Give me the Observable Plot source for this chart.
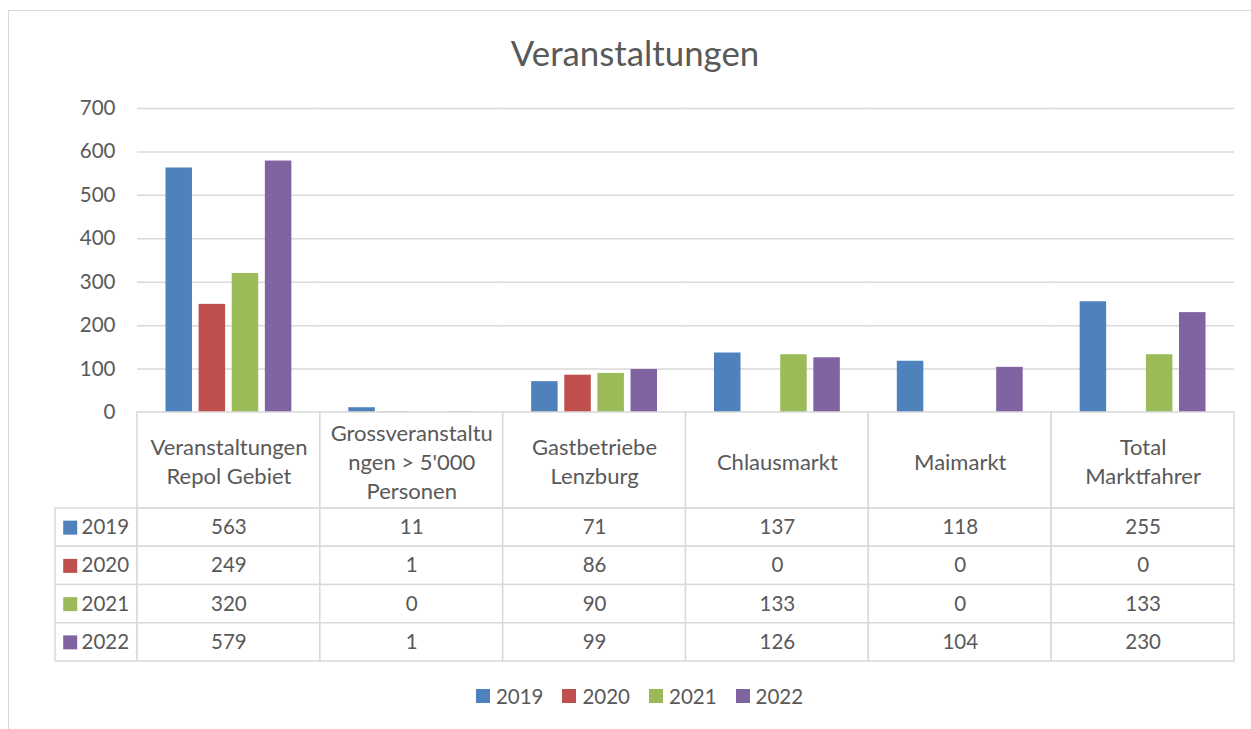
<!DOCTYPE html>
<html>
<head>
<meta charset="utf-8">
<script src="https://cdn.jsdelivr.net/npm/d3@7"></script>
<script src="https://cdn.jsdelivr.net/npm/@observablehq/plot@0.6"></script>
<style>
  html, body { margin: 0; padding: 0; background: #fff; overflow: hidden; }
  #wrap { position: relative; width: 1251px; height: 729px; font-family: Lato, "Open Sans", sans-serif; color: #595959; }
  #frame { position: absolute; left: 8px; top: 10px; width: 1300px; height: 800px; border: 1.5px solid #d9d9d9; box-sizing: border-box; }
  #title { position: absolute; left: 635px; top: 32px; transform: translateX(-50%); font-size: 34.8px; line-height: normal; white-space: nowrap; color: #595959; }
  .abs { position: absolute; }
  #legend { position: absolute; left: 0; width: 1279px; top: 684px; display: flex; justify-content: center; }
  #legend .sw { display: flex; align-items: center; margin: 0 9.5px; font-size: 20.5px; color: #595959; }
  #legend .sq { width: 14px; height: 14px; margin-right: 6px; }
  svg { overflow: visible; }
</style>
</head>
<body>
<div id="wrap">
  <div id="frame"></div>
  <div id="title">Veranstaltungen</div>
  <div id="bars" class="abs" style="left:0;top:88px"></div>
  <div id="head" class="abs" style="left:0;top:411px"></div>
  <div id="rowlab" class="abs" style="left:0;top:507px"></div>
  <div id="rows" class="abs" style="left:0;top:507px"></div>
  <div id="legend"></div>
</div>
<script>
const categories = ["Veranstaltungen Repol Gebiet", "Grossveranstaltungen > 5'000 Personen", "Gastbetriebe Lenzburg", "Chlausmarkt", "Maimarkt", "Total Marktfahrer"];
const categoryLabels = ["Veranstaltungen\nRepol Gebiet", "Grossveranstaltu\nngen > 5'000\nPersonen", "Gastbetriebe\nLenzburg", "Chlausmarkt", "Maimarkt", "Total\nMarktfahrer"];
const years = ["2019", "2020", "2021", "2022"];
const colors = ["#4f81bd", "#c0504d", "#9bbb59", "#8064a2"];
const values2019 = [563, 11, 71, 137, 118, 255];
const values2020 = [249, 1, 86, 0, 0, 0];
const values2021 = [320, 0, 90, 133, 0, 133];
const values2022 = [579, 1, 99, 126, 104, 230];
const yTicks = [0, 100, 200, 300, 400, 500, 600, 700];

const series = {"2019": values2019, "2020": values2020, "2021": values2021, "2022": values2022};
const rows = years.flatMap(y => categories.map((c, i) => ({category: c, year: y, value: series[y][i]})));

const textColor = "#595959";
const lineColor = "#d9d9d9";
const fs = "20.5px";
const fsHead = "22px";
const font = "Lato, 'Open Sans', sans-serif";
const W = 1251, mL = 137, mR = 17;

// Bars
const bars = Plot.plot({
  width: W, height: 332,
  marginLeft: mL, marginRight: mR, marginTop: 20, marginBottom: 8,
  style: {fontFamily: font, fontSize: fs, color: textColor, background: "transparent"},
  fx: {domain: categories, padding: 0, round: false, axis: null},
  x: {domain: years, paddingInner: 0.2, paddingOuter: 0.86, round: false, axis: null},
  y: {domain: [0, 700], ticks: yTicks, tickSize: 0, tickPadding: 22, label: null, tickFormat: d => String(d)},
  color: {domain: years, range: colors},
  marks: [
    Plot.gridY(yTicks, {stroke: lineColor, strokeOpacity: 1, strokeWidth: 1.5}),
    Plot.barY(rows, {fx: "category", x: "year", y: "value", fill: "year"}),
    Plot.axisY({ticks: yTicks, tickSize: 0, tickPadding: 22, fill: textColor, fontSize: fs, label: null})
  ]
});
document.getElementById("bars").append(bars);

// Header row of the table
const head = Plot.plot({
  width: W, height: 98,
  marginLeft: mL, marginRight: mR, marginTop: 1, marginBottom: 1,
  style: {fontFamily: font, fontSize: fsHead, color: textColor, background: "transparent"},
  x: {domain: categories, padding: 0, round: false, axis: null},
  marks: [
    Plot.cell(categories, {x: d => d, fill: "white", stroke: lineColor, strokeWidth: 1.5}),
    Plot.text(categories, {x: d => d, text: (d, i) => categoryLabels[i], fill: textColor, fontSize: fsHead, lineHeight: 1.32})
  ]
});
document.getElementById("head").append(head);

// Row labels column
const rowlab = Plot.plot({
  width: 138, height: 155,
  marginLeft: 55, marginRight: 1, marginTop: 1, marginBottom: 1,
  style: {fontFamily: font, fontSize: fs, color: textColor, background: "transparent"},
  y: {domain: years, padding: 0, round: false, axis: null},
  color: {domain: years, range: colors},
  marks: [
    Plot.cell(years, {y: d => d, fill: "white", stroke: lineColor, strokeWidth: 1.5}),
    Plot.dot(years, {y: d => d, frameAnchor: "left", dx: 14.7, symbol: "square", r: 7.9, fill: d => d, stroke: null}),
    Plot.text(years, {y: d => d, frameAnchor: "left", dx: 26, textAnchor: "start", text: d => d, fill: textColor, fontSize: fs})
  ]
});
document.getElementById("rowlab").append(rowlab);

// Data rows
const rowsPlot = Plot.plot({
  width: W, height: 155,
  marginLeft: mL, marginRight: mR, marginTop: 1, marginBottom: 1,
  style: {fontFamily: font, fontSize: fs, color: textColor, background: "transparent"},
  x: {domain: categories, padding: 0, round: false, axis: null},
  y: {domain: years, padding: 0, round: false, axis: null},
  marks: [
    Plot.cell(rows, {x: "category", y: "year", fill: "white", stroke: lineColor, strokeWidth: 1.5}),
    Plot.text(rows, {x: "category", y: "year", text: d => String(d.value), fill: textColor, fontSize: fs})
  ]
});
document.getElementById("rows").append(rowsPlot);

// Legend
const leg = document.getElementById("legend");
years.forEach((y, i) => {
  const item = document.createElement("div");
  item.className = "sw";
  const sq = document.createElement("span");
  sq.className = "sq";
  sq.style.background = colors[i];
  const t = document.createElement("span");
  t.textContent = y;
  item.append(sq, t);
  leg.append(item);
});
</script>
</body>
</html>
